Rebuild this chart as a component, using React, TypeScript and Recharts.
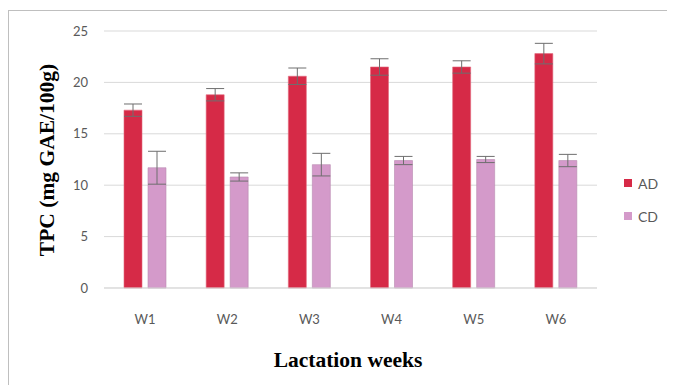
import { BarChart, Bar, XAxis, YAxis, CartesianGrid, ErrorBar } from 'recharts';

const weeks = ['W1', 'W2', 'W3', 'W4', 'W5', 'W6'];
const adValues = [17.3, 18.8, 20.6, 21.5, 21.5, 22.8];
const adErrors = [0.6, 0.6, 0.8, 0.8, 0.6, 1.0];
const cdValues = [11.7, 10.8, 12.0, 12.4, 12.5, 12.4];
const cdErrors = [1.6, 0.4, 1.1, 0.4, 0.3, 0.6];
const yTicks = [0, 5, 10, 15, 20, 25];

const AD_COLOR = '#D62A47';
const CD_COLOR = '#D49ACA';

const data = weeks.map((w, i) => ({
  week: w,
  AD: adValues[i],
  adErr: adErrors[i],
  CD: cdValues[i],
  cdErr: cdErrors[i],
}));

const legendItems = [
  { name: 'AD', color: AD_COLOR },
  { name: 'CD', color: CD_COLOR },
];

export default function App() {
  return (
    <div style={{ position: 'relative', width: 667, height: 377 }}>
      <div
        style={{
          position: 'absolute',
          left: 0,
          top: 2,
          width: 667,
          height: 375,
          borderTop: '1px solid #BFBFBF',
          borderLeft: '1px solid #BFBFBF',
          boxSizing: 'border-box',
        }}
      />
      <div style={{ position: 'absolute', left: 0, top: 0 }}>
        <BarChart
          width={667}
          height={377}
          data={data}
          margin={{ top: 23, right: 78, bottom: 0, left: 0 }}
          barSize={18}
          barGap={6}
        >
          <CartesianGrid vertical={false} stroke="#D9D9D9" />
          <XAxis
            dataKey="week"
            axisLine={{ stroke: '#D9D9D9' }}
            tickLine={false}
            tickMargin={21}
            height={97}
            tick={{ fontFamily: 'Lato, sans-serif', fontSize: 13, fill: '#595959' }}
          />
          <YAxis
            domain={[0, 25]}
            ticks={yTicks}
            width={96}
            axisLine={false}
            tickLine={false}
            tickSize={0}
            tickMargin={16}
            tick={{ fontFamily: 'Lato, sans-serif', fontSize: 13, fill: '#595959' }}
          />
          <Bar dataKey="AD" fill={AD_COLOR} stroke="#E26A7E" strokeWidth={0.6} isAnimationActive={false}>
            <ErrorBar dataKey="adErr" width={9} stroke="#6E6E6E" strokeWidth={1} />
          </Bar>
          <Bar dataKey="CD" fill={CD_COLOR} stroke="#B98AB0" strokeWidth={0.6} isAnimationActive={false}>
            <ErrorBar dataKey="cdErr" width={9} stroke="#6E6E6E" strokeWidth={1} />
          </Bar>
        </BarChart>
      </div>
      <div style={{ position: 'absolute', left: 616, top: 167 }}>
        {legendItems.map((it) => (
          <div key={it.name} style={{ display: 'flex', alignItems: 'center', height: 16, marginBottom: 17 }}>
            <span style={{ width: 8, height: 8, background: it.color, marginRight: 6, display: 'inline-block' }} />
            <span style={{ fontFamily: 'Lato, sans-serif', fontSize: 14, color: '#595959' }}>{it.name}</span>
          </div>
        ))}
      </div>
      <div style={{ position: 'absolute', left: 39, top: 152, width: 0, height: 0 }}>
        <div
          style={{
            position: 'absolute',
            transform: 'translate(-50%, -50%) rotate(-90deg)',
            whiteSpace: 'nowrap',
            fontFamily: '"Liberation Serif", serif',
            fontWeight: 'bold',
            fontSize: 21.5,
            color: '#000',
          }}
        >
          TPC (mg GAE/100g)
        </div>
      </div>
      <div style={{ position: 'absolute', left: 340, top: 352, width: 0, height: 0 }}>
        <div
          style={{
            position: 'absolute',
            transform: 'translate(-50%, -50%)',
            whiteSpace: 'nowrap',
            fontFamily: '"Liberation Serif", serif',
            fontWeight: 'bold',
            fontSize: 21.5,
            color: '#000',
          }}
        >
          Lactation weeks
        </div>
      </div>
    </div>
  );
}
